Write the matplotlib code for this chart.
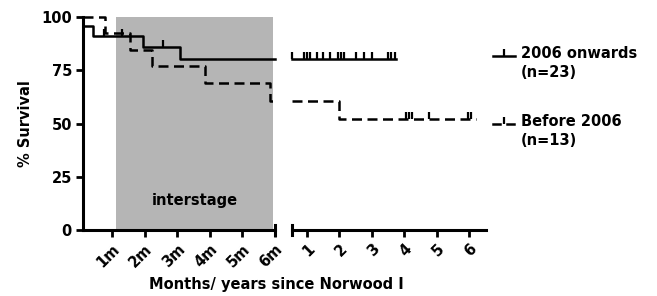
import numpy as np
import matplotlib
matplotlib.use("Agg")
import matplotlib.pyplot as plt
from matplotlib.path import Path
from matplotlib.lines import Line2D

plt.rcParams['font.family'] = ['DejaVu Sans']
plt.rcParams['font.weight'] = 'bold'
plt.rcParams['axes.labelweight'] = 'bold'
plt.rcParams['font.size'] = 10.5

# Kaplan-Meier steps, time in months
solid_times = np.array([0, 0.1, 0.42, 1.95, 3.09])
solid_surv = np.array([100, 95.65, 91.3, 86.0, 80.2])
solid_end = 45.0
solid_cens_months = [0.75, 1.3, 2.55]
solid_cens_years = [0.55, 0.9, 1.0, 1.1, 1.3, 1.5, 1.7, 1.95, 2.05, 2.15,
                    2.5, 2.75, 3.0, 3.5, 3.6, 3.7]

dash_times = np.array([0, 0.79, 1.55, 2.23, 3.85, 5.85, 24.0])
dash_surv = np.array([100, 92.3, 84.6, 76.9, 69.2, 60.6, 51.9])
dash_end = 74.4
dash_cens_years = [4.05, 4.15, 4.25, 4.75, 5.95, 6.05]

month_ticks = [1, 2, 3, 4, 5, 6]
month_labels = ['1m', '2m', '3m', '4m', '5m', '6m']
year_ticks = [1, 2, 3, 4, 5, 6]
y_ticks = [0, 25, 50, 75, 100]
interstage = (1.12, 5.94)


def surv_at(times, surv, t):
    idx = np.searchsorted(times, t, side='right') - 1
    return surv[idx]


def segment(times, surv, t0, t1):
    inside = (times > t0) & (times < t1)
    x = np.concatenate([[t0], times[inside], [t1]])
    y = np.concatenate([[surv_at(times, surv, t0)], surv[inside],
                        [surv_at(times, surv, t1)]])
    return x, y


tick_marker = Path([(0, 0), (0, 1)], [Path.MOVETO, Path.LINETO])

W, H = 657, 296
fig = plt.figure(figsize=(W / 100, H / 100), dpi=100)
axl = fig.add_axes([83 / W, 1 - 230 / H, (275 - 83) / W, 213 / H])
axr = fig.add_axes([292 / W, 1 - 230 / H, (486 - 292) / W, 213 / H])

lw = 1.8
dash = (0, (4, 2.2))
cens = dict(ls='none', marker=tick_marker, ms=10, mew=1.6, color='k', clip_on=False)

# left panel (months)
axl.axvspan(*interstage, color='#b5b5b5', lw=0, zorder=0)
x, y = segment(solid_times, solid_surv, 0.1, 6.0)
axl.plot(x, y, drawstyle='steps-post', color='k', lw=lw, clip_on=False)
x, y = segment(dash_times, dash_surv, 0.1, 6.0)
axl.plot(x, y, drawstyle='steps-post', color='k', lw=lw, ls=dash, clip_on=False)
axl.plot(solid_cens_months, surv_at(solid_times, solid_surv, np.array(solid_cens_months)),
         **cens)
axl.text(np.mean(interstage), 14, 'interstage', ha='center', va='center', fontsize=10.5)
axl.set_xlim(0.1, 6.0)
axl.set_ylim(0, 100)
axl.set_xticks(month_ticks)
axl.set_xticklabels(month_labels, rotation=45, ha='right', rotation_mode='anchor')
axl.set_yticks(y_ticks)
axl.set_ylabel('% Survival', labelpad=6)
axl.spines[['top', 'right']].set_visible(False)
axl.plot([1, 1], [-0.025, 0.025], transform=axl.transAxes, color='k', lw=2.2, clip_on=False)

# right panel (years)
x, y = segment(solid_times, solid_surv, 0.54 * 12, solid_end)
axr.plot(x / 12, y, drawstyle='steps-post', color='k', lw=lw, clip_on=False)
x, y = segment(dash_times, dash_surv, 0.54 * 12, dash_end)
axr.plot(x / 12, y, drawstyle='steps-post', color='k', lw=lw, ls=dash, clip_on=False)
axr.plot(solid_cens_years, surv_at(solid_times, solid_surv, np.array(solid_cens_years) * 12),
         **cens)
axr.plot(dash_cens_years, surv_at(dash_times, dash_surv, np.array(dash_cens_years) * 12),
         **cens)
axr.set_xlim(0.54, 6.52)
axr.set_ylim(0, 100)
axr.set_xticks(year_ticks)
axr.set_xticklabels([str(t) for t in year_ticks], rotation=45, ha='right',
                    rotation_mode='anchor')
axr.set_yticks([])
axr.spines[['top', 'right', 'left']].set_visible(False)
axr.plot([0, 0], [-0.025, 0.025], transform=axr.transAxes, color='k', lw=2.2, clip_on=False)

for ax in (axl, axr):
    ax.spines['left'].set_linewidth(2.2)
    ax.spines['bottom'].set_linewidth(2.2)
    ax.tick_params(width=2, length=5, labelsize=10.5, pad=3)
    for lab in ax.get_xticklabels() + ax.get_yticklabels():
        lab.set_fontweight('bold')
    ax.set_facecolor('none')

fig.text(276 / W, 1 - 285 / H, 'Months/ years since Norwood I', ha='center',
         va='center', fontsize=10.5)


# legend drawn by hand, in pixel positions of the figure
def fx(px):
    return px / W


def fy(py):
    return 1 - py / H


fig.add_artist(Line2D([fx(493), fx(515)], [fy(56), fy(56)], color='k', lw=lw))
fig.add_artist(Line2D([fx(504)], [fy(56)], **cens))
fig.text(fx(521), fy(46), '2006 onwards\n(n=23)', ha='left', va='top', fontsize=10.5,
         linespacing=1.35)
fig.add_artist(Line2D([fx(493), fx(500)], [fy(124), fy(124)], color='k', lw=lw))
fig.add_artist(Line2D([fx(507), fx(514)], [fy(124), fy(124)], color='k', lw=lw))
fig.add_artist(Line2D([fx(503.5)], [fy(124)], **cens))
fig.text(fx(521), fy(114), 'Before 2006\n(n=13)', ha='left', va='top', fontsize=10.5,
         linespacing=1.35)

fig.savefig('out.png', dpi=100)
